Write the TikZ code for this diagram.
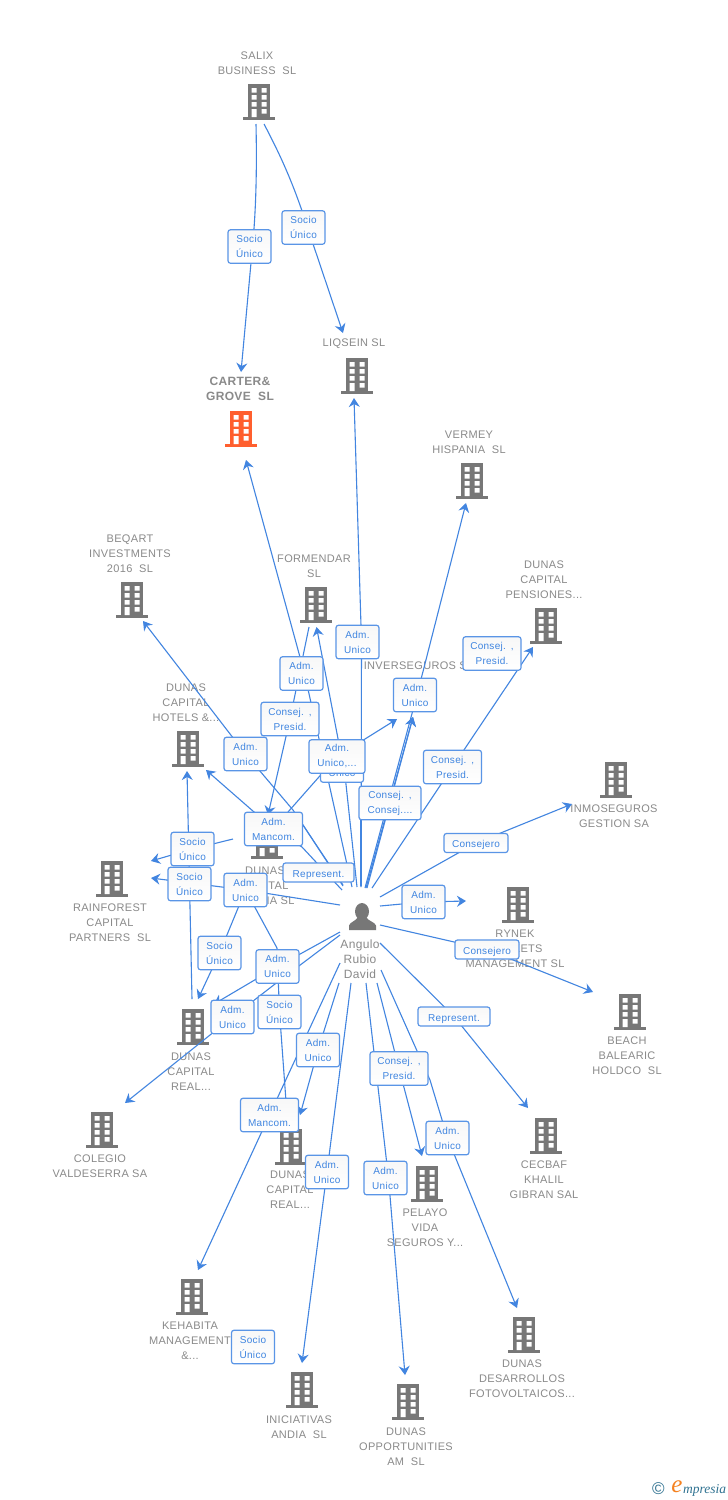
\documentclass[tikz,border=0pt]{standalone}
\usepackage{fontspec}
\setmainfont[LetterSpace=3]{Liberation Sans}
\newfontfamily\logofont{Liberation Serif}
\newfontfamily\logosans{Liberation Sans}
\usetikzlibrary{arrows.meta,backgrounds}
\definecolor{linkblue}{HTML}{4285E0}
\definecolor{boxblue}{HTML}{5A95E6}
\definecolor{labelblue}{HTML}{3F85E0}
\definecolor{graytxt}{HTML}{8A8A8A}
\definecolor{bldgray}{HTML}{777777}
\definecolor{bldorange}{HTML}{FF5F2E}
\definecolor{logoteal}{HTML}{2F7291}
\definecolor{logoorange}{HTML}{F58220}
\tikzset{
  x=1pt,y=-1pt,
  lab/.style={draw=boxblue,line width=1.2pt,rounded corners=2.5pt,top color=white!97!black,bottom color=white,
    text=labelblue,font=\fontsize{10}{15}\selectfont,align=center,inner sep=0pt,minimum height=33.5pt,text width=43pt},
  lab1/.style={lab,minimum height=19pt,text width=64pt,text height=11pt,text depth=2pt},
  labw/.style={lab,text width=58pt},
  cname/.style={text=graytxt,font=\fontsize{11}{15}\selectfont,align=center,inner sep=0pt,yshift=-1pt},
  conn/.style={draw=linkblue,line width=1.1pt,line join=round},
  arr/.style={conn,-{Stealth[length=9pt,width=11pt,inset=3pt]}},
  bgray/.style={fill=bldgray},
  bora/.style={fill=bldorange},
  bld/.pic={
    \fill[pic actions] (-11,0) rectangle (11,33);
    \fill[pic actions] (-16,33) rectangle (16,35.5);
    \fill[white] (-7.5,4) rectangle (-2.5,8.5) (2.5,4) rectangle (7.5,8.5)
      (-7.5,11) rectangle (-2.5,15.5) (2.5,11) rectangle (7.5,15.5)
      (-7.5,18) rectangle (-2.5,22.5) (2.5,18) rectangle (7.5,22.5)
      (-7.5,25) rectangle (-2.5,33) (2.5,25) rectangle (7.5,29.5);
  }
}
\begin{document}
\begin{tikzpicture}
\useasboundingbox (0,0) rectangle (728,1500);
% label boxes
\node[lab] (b01) at (249.5,246.5) {Socio\\Único};
\node[lab] (b02) at (303.5,227.5) {Socio\\Único};
\node[lab] (b03) at (357.5,642) {Adm.\\Unico};
\node[lab] (b04) at (301.5,673.5) {Adm.\\Unico};
\node[labw] (b05) at (492,653.5) {Consej. ,\\Presid.};
\node[lab] (b06) at (415,695) {Adm.\\Unico};
\node[labw] (b07) at (290,719) {Consej. ,\\Presid.};
\node[lab] (b08) at (245.5,754) {Adm.\\Unico};
\node[lab] (b09) at (342,765.5) {Adm.\\Unico};
\node[lab,text width=56pt] (b10) at (337,756.5) {Adm.\\Unico,...};
\node[labw] (b11) at (452.5,767) {Consej. ,\\Presid.};
\node[lab,text width=62pt] (b12) at (390,803) {Consej. ,\\Consej....};
\node[labw] (b13) at (273.5,829) {Adm.\\Mancom.};
\node[lab1] (b14) at (476,843) {Consejero};
\node[lab] (b15) at (192.5,849) {Socio\\Único};
\node[lab1,text width=71pt] (b16) at (318.5,872.5) {Represent.};
\node[lab] (b17) at (189.5,884) {Socio\\Único};
\node[lab] (b18) at (245.5,890) {Adm.\\Unico};
\node[lab] (b19) at (423.5,902) {Adm.\\Unico};
\node[lab] (b20) at (219.5,953) {Socio\\Único};
\node[lab1] (b21) at (487,949.5) {Consejero};
\node[lab] (b22) at (277.5,966.5) {Adm.\\Unico};
\node[lab] (b23) at (279.5,1012) {Socio\\Único};
\node[lab] (b24) at (232.5,1017) {Adm.\\Unico};
\node[lab1,text width=72pt] (b25) at (454,1016.5) {Represent.};
\node[lab] (b26) at (318,1050) {Adm.\\Unico};
\node[labw] (b27) at (399,1068.5) {Consej. ,\\Presid.};
\node[labw] (b28) at (269.5,1115) {Adm.\\Mancom.};
\node[lab] (b29) at (447.5,1138) {Adm.\\Unico};
\node[lab] (b30) at (327,1172) {Adm.\\Unico};
\node[lab] (b31) at (385.5,1178) {Adm.\\Unico};
\node[lab] (b32) at (253,1347) {Socio\\Único};
\begin{scope}[on background layer]
\fill[white] (0,0) rectangle (728,1500);
% company names and icons
\node[cname] (nSalix) at (257,62.5) {SALIX\\BUSINESS~~SL};
\pic[bgray] at (259,84) {bld};
\node[cname] (nLiq) at (354,343) {LIQSEIN~SL};
\pic[bgray] at (357,358) {bld};
\node[cname,font=\fontsize{12}{15}\selectfont\bfseries] (nCarter) at (240,387.5) {CARTER\&\\GROVE~~SL};
\pic[bora] at (241,411) {bld};
\node[cname] (nVer) at (469,441.5) {VERMEY\\HISPANIA~~SL};
\pic[bgray] at (472,463) {bld};
\node[cname] (nBeq) at (130,553) {BEQART\\INVESTMENTS\\2016~~SL};
\pic[bgray] at (132,582) {bld};
\node[cname] (nFor) at (314,565.5) {FORMENDAR\\SL};
\pic[bgray] at (316,587) {bld};
\node[cname] (nPen) at (544,579) {DUNAS\\CAPITAL\\PENSIONES...};
\pic[bgray] at (546,608) {bld};
\node[cname] (nInv) at (418.5,665) {INVERSEGUROS~SL};
\node[cname] (nHot) at (186,702) {DUNAS\\CAPITAL\\HOTELS~\&...};
\pic[bgray] at (188,731) {bld};
\node[cname] (nInm) at (614,815.5) {INMOSEGUROS\\GESTION~SA};
\pic[bgray] at (616,762) {bld};
\pic[bgray] at (267,823) {bld};
\node[cname] (nDun) at (265,885) {DUNAS\\CAPITAL\\\phantom{GEST}IA~SL};
\node[cname] (nRai) at (110,922) {RAINFOREST\\CAPITAL\\PARTNERS~~SL};
\pic[bgray] at (112,861) {bld};
\node[cname] (nRyn) at (515,948) {RYNEK\\MARKETS\\MANAGEMENT~SL};
\pic[bgray] at (518,887) {bld};
\node[cname] (nBea) at (627,1055) {BEACH\\BALEARIC\\HOLDCO~~SL};
\pic[bgray] at (630,994) {bld};
\node[cname] (nRe1) at (191,1071) {DUNAS\\CAPITAL\\REAL...};
\pic[bgray] at (193,1009) {bld};
\node[cname] (nCol) at (100,1165.5) {COLEGIO\\VALDESERRA~SA};
\pic[bgray] at (102,1112) {bld};
\node[cname] (nCec) at (544,1179) {CECBAF\\KHALIL\\GIBRAN~SAL};
\pic[bgray] at (546,1118) {bld};
\node[cname] (nRe2) at (290,1189) {DUNAS\\CAPITAL\\REAL...};
\pic[bgray] at (291,1129) {bld};
\node[cname] (nPel) at (425,1227) {PELAYO\\VIDA\\SEGUROS~Y...};
\pic[bgray] at (427,1166) {bld};
\node[cname] (nKeh) at (190,1340) {KEHABITA\\MANAGEMENT\\\&...};
\pic[bgray] at (192,1279) {bld};
\node[cname] (nDes) at (522,1378) {DUNAS\\DESARROLLOS\\FOTOVOLTAICOS...};
\pic[bgray] at (524,1317) {bld};
\node[cname] (nIni) at (299,1426.5) {INICIATIVAS\\ANDIA~~SL};
\pic[bgray] at (302,1372) {bld};
\node[cname] (nOpp) at (406,1446) {DUNAS\\OPPORTUNITIES\\AM~~SL};
\pic[bgray] at (408,1384) {bld};
% hub icon and name
\fill[bldgray] (362,911.5) ellipse (7 and 8.5);
\fill[bldgray] (349,930) -- (349,925.5) .. controls (350,922) and (356,921) .. (358,917) -- (366,917) .. controls (368,921) and (375,922) .. (376,925.5) -- (376,930) -- cycle;
\node[cname,font=\fontsize{12}{15}\selectfont] (nP) at (360,958) {Angulo\\Rubio\\David};
% connectors
\draw[arr] (256,124) .. controls (257,170) and (256,210) .. ([shift={(3,0)}]b01.center) -- (241,372);
\draw[arr] (264,124) .. controls (282,158) and (295,188) .. ([shift={(4,0)}]b02.center) -- (343,333);
\draw[arr] (352,887) -- ([shift={(3,0)}]b04.center) -- (246,460);
\draw[arr] (361,887) -- ([shift={(4,0)}]b03.center) -- (354,398);
\draw[arr] (365,888) -- ([shift={(2,0)}]b06.center) -- (466,503);
\draw[arr] (366,888) -- (413,717);
\draw[arr] (367,888) -- (413,717);
\draw[arr] (357,887) -- (345,775) -- (316.5,627);
\draw[arr] (309,627) -- (b07.center) -- (268,815);
\draw[arr] (372,888) -- (b11.center) -- (533,647);
\draw[conn] (361,820) -- (361,886);
\draw[arr] (288,812) -- (b10.center) -- (397,719);
\draw[conn] (343,886) -- (303,825) -- (288,812);
\draw[conn] (342,890) -- (302,847) -- (b13.center);
\draw[arr] (b13.center) -- (206,770);
\draw[arr] (343,885) -- (293,810) -- (b08.center) -- (143,621);
\draw[arr] (380,897) -- (b14.center) -- (572,804);
\draw[arr] (380,906) -- (b19.center) -- (466,901);
\draw[arr] (380,925) -- (b21.center) -- (593,992);
\draw[arr] (380,943) -- (b25.center) -- (528,1108);
\draw[arr] (381,970) -- (430,1080) -- (b29.center) -- (517,1308);
\draw[arr] (377,983) -- (b27.center) -- (422,1156);
\draw[arr] (366,983) -- ([shift={(3,0)}]b31.center) -- (405,1375);
\draw[arr] (351,983) -- (b30.center) -- (302,1363);
\draw[arr] (340,963) -- (b28.center) -- (198,1270);
\draw[arr] (339,983) -- (b26.center) -- (300,1115);
\draw[arr] (340,932) -- (b22.center) -- (214,1004);
\draw[arr] (340,935) -- (275,984) -- (b24.center) -- (125,1103);
\draw[arr] (b18.center) -- (b20.center) -- (198,999);
\draw[conn] (b18.center) -- (277,948) -- (b23.center) -- (287,1115);
\draw[arr] (340,905) -- (b18.center) -- (151,878);
\draw[arr] (233,839) -- (b15.center) -- (151,861);
\draw[arr] (192,999) -- (b17.center) -- (187,771);
% logo
\node[inner sep=0pt,text=logoteal,font=\logosans\fontsize{17}{17}\selectfont] (lc) at (658.5,1489) {©};
\node[inner sep=0pt,text=logoorange,font=\logofont\fontsize{25}{25}\selectfont\itshape] (le) at (677,1487) {e};
\node[inner sep=0pt,text=logoteal,font=\logofont\fontsize{13.5}{15}\selectfont\itshape,anchor=west] (lm) at (683,1490) {mpresia};
\end{scope}
\end{tikzpicture}
\end{document}
